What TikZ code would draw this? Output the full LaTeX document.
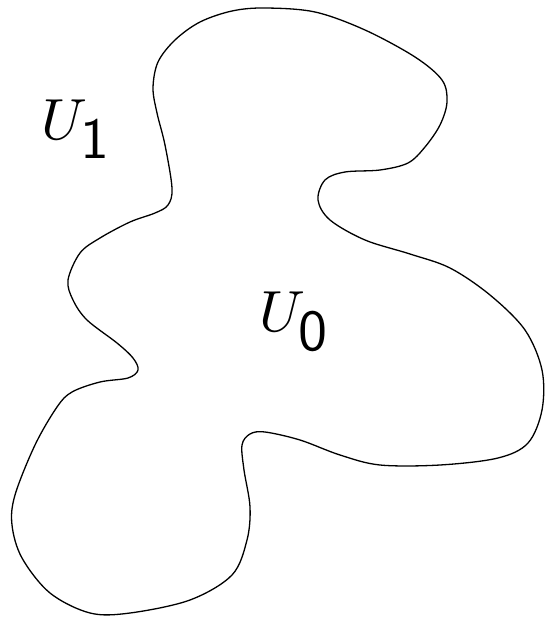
\documentclass[tikz,border=0pt]{standalone}
\usepackage{graphicx}
\begin{document}
\begin{tikzpicture}[x=1pt,y=-1pt,
  blob/.style={draw=black,line width=1.3pt},
  lab/.style={inner sep=0pt}]
\useasboundingbox (0,0) rectangle (545,617);
\draw[blob] plot[smooth cycle,tension=0.55] coordinates {
(265,8) (315,12) (365,30) (415,57) (442,80) (447,102) (440,125) (425,147) (408,163) (380,170) (345,172) (325,180) (318,200) (330,220) (365,240) (410,254) (450,268) (490,295) (525,330) (542,370) (542,410) (528,443) (498,458) (440,465) (380,465) (340,455) (300,440) (265,432) (250,434) (242,445) (244,470) (250,507) (247,540) (232,575) (190,600) (130,613) (90,613) (50,593) (22,558) (12,525) (15,495) (35,445) (57,407) (72,392) (100,382) (128,378) (138,370) (133,358) (117,343) (87,320) (73,300) (68,280) (80,253) (100,238) (130,222) (155,213) (168,205) (172,188) (165,145) (157,113) (153,88) (158,62) (175,40) (200,22) (232,11)};
\node[lab] (U1) at (77,129) {\scalebox{5.8}{$U_{\mbox{\sffamily 1}}$}};
\node[lab] (U0) at (295,322) {\scalebox{5.8}{$U_{\mbox{\sffamily 0}}$}};
\end{tikzpicture}
\end{document}
